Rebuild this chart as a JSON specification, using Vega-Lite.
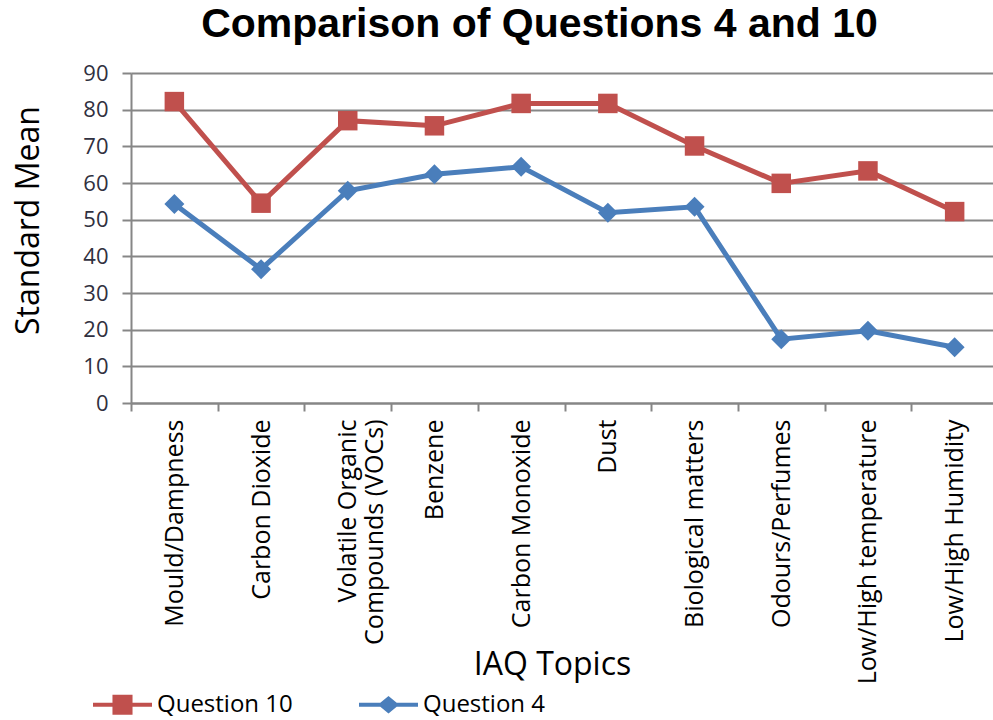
{
  "$schema": "https://vega.github.io/schema/vega-lite/v6.json",
  "width": 867,
  "height": 330,
  "autosize": {"type": "none"},
  "padding": {"left": 131, "top": 73, "right": 0, "bottom": 317},
  "background": "white",
  "title": {
    "text": "Comparison of Questions 4 and 10",
    "font": "Liberation Sans",
    "fontSize": 41,
    "fontWeight": "bold",
    "color": "#000000",
    "frame": "group",
    "anchor": "middle",
    "baseline": "alphabetic",
    "offset": -16,
    "dx": -25
  },
  "data": {
    "values": [
      {"topic": "Mould/Dampness", "series": "Question 10", "value": 82.2},
      {"topic": "Carbon Dioxide", "series": "Question 10", "value": 54.5},
      {"topic": "Volatile Organic Compounds (VOCs)", "series": "Question 10", "value": 77.0},
      {"topic": "Benzene", "series": "Question 10", "value": 75.6},
      {"topic": "Carbon Monoxide", "series": "Question 10", "value": 81.7},
      {"topic": "Dust", "series": "Question 10", "value": 81.7},
      {"topic": "Biological matters", "series": "Question 10", "value": 70.1},
      {"topic": "Odours/Perfumes", "series": "Question 10", "value": 59.9},
      {"topic": "Low/High temperature", "series": "Question 10", "value": 63.3},
      {"topic": "Low/High Humidity", "series": "Question 10", "value": 52.2},
      {"topic": "Mould/Dampness", "series": "Question 4", "value": 54.3},
      {"topic": "Carbon Dioxide", "series": "Question 4", "value": 36.5},
      {"topic": "Volatile Organic Compounds (VOCs)", "series": "Question 4", "value": 57.9},
      {"topic": "Benzene", "series": "Question 4", "value": 62.4},
      {"topic": "Carbon Monoxide", "series": "Question 4", "value": 64.4},
      {"topic": "Dust", "series": "Question 4", "value": 51.9},
      {"topic": "Biological matters", "series": "Question 4", "value": 53.5},
      {"topic": "Odours/Perfumes", "series": "Question 4", "value": 17.4},
      {"topic": "Low/High temperature", "series": "Question 4", "value": 19.7},
      {"topic": "Low/High Humidity", "series": "Question 4", "value": 15.2}
    ]
  },
  "encoding": {
    "x": {
      "field": "topic",
      "type": "nominal",
      "sort": null,
      "bandPosition": 0.5,
      "scale": {"type": "band", "paddingInner": 0, "paddingOuter": 0},
      "axis": {
        "title": "IAQ Topics",
        "titleFont": "Open Sans",
        "titleFontSize": 32,
        "titleFontWeight": "normal",
        "titleColor": "#000000",
        "titleX": 421,
        "titleY": 271,
        "titleAlign": "center",
        "titleBaseline": "alphabetic",
        "labelAngle": -90,
        "labelAlign": "right",
        "labelBaseline": "middle",
        "labelFont": "Open Sans",
        "labelFontSize": 25,
        "labelColor": "#000000",
        "labelPadding": 8,
        "labelLimit": 400,
        "labelLineHeight": 27,
        "labelExpr": "datum.label == 'Volatile Organic Compounds (VOCs)' ? ['Volatile Organic', 'Compounds (VOCs)'] : datum.label",
        "tickBand": "extent",
        "tickSize": 8,
        "tickColor": "#868686",
        "tickWidth": 2,
        "domainColor": "#868686",
        "domainWidth": 2,
        "grid": false
      }
    },
    "y": {
      "field": "value",
      "type": "quantitative",
      "scale": {"domain": [0, 90], "nice": false, "zero": true},
      "axis": {
        "title": "Standard Mean",
        "titleFont": "Open Sans",
        "titleFontSize": 32,
        "titleFontWeight": "normal",
        "titleColor": "#000000",
        "titleAngle": -90,
        "titleX": -103,
        "titleY": 147,
        "titleAlign": "center",
        "titleBaseline": "middle",
        "values": [0, 10, 20, 30, 40, 50, 60, 70, 80, 90],
        "labelFont": "Open Sans",
        "labelFontSize": 22,
        "labelColor": "#303040",
        "labelPadding": 14,
        "tickSize": 9,
        "tickColor": "#868686",
        "tickWidth": 2,
        "domainColor": "#868686",
        "domainWidth": 2,
        "grid": true,
        "gridColor": "#868686",
        "gridWidth": 2
      }
    },
    "color": {
      "field": "series",
      "type": "nominal",
      "scale": {"domain": ["Question 10", "Question 4"], "range": ["#c0504d", "#4a7ebb"]},
      "legend": {
        "title": null,
        "orient": "none",
        "direction": "horizontal",
        "legendX": -38,
        "legendY": 602,
        "symbolSize": 3481,
        "symbolStrokeWidth": 0,
        "labelFont": "Open Sans",
        "labelFontSize": 24,
        "labelColor": "#000000",
        "labelOffset": 5,
        "columnPadding": 66,
        "labelLimit": 300,
        "encode": {
          "symbols": {
            "update": {
              "shape": {"signal": "datum.value === 'Question 10' ? 'M-1,-0.07H1V0.07H-1Z M-0.34,-0.34H0.34V0.34H-0.34Z' : 'M-1,-0.07H1V0.07H-1Z M0,-0.3L0.36,0L0,0.3L-0.36,0Z'"},
              "fill": {"signal": "datum.value === 'Question 10' ? '#c0504d' : '#4a7ebb'"},
              "fillOpacity": {"value": 1},
              "strokeWidth": {"value": 0},
              "opacity": {"value": 1}
            }
          }
        }
      }
    }
  },
  "layer": [
    {
      "mark": {"type": "line", "strokeWidth": 5}
    },
    {
      "transform": [{"filter": "datum.series === 'Question 10'"}],
      "mark": {"type": "point", "filled": true, "opacity": 1, "size": 380, "shape": "square"}
    },
    {
      "transform": [{"filter": "datum.series === 'Question 4'"}],
      "mark": {"type": "point", "filled": true, "opacity": 1, "size": 400, "shape": "diamond"}
    }
  ]
}
